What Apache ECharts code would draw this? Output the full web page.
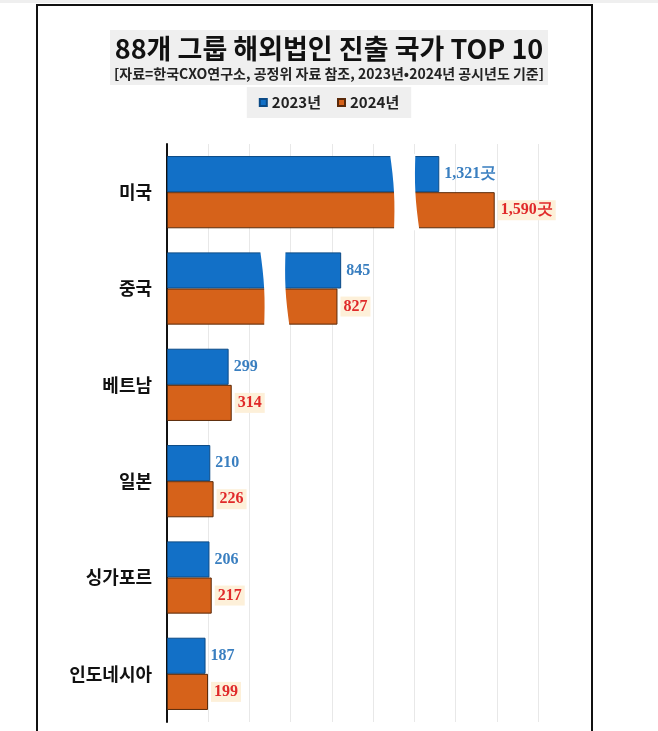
<!DOCTYPE html>
<html>
<head>
<meta charset="utf-8">
<script src="https://cdn.jsdelivr.net/npm/echarts@6/dist/echarts.min.js"></script>
<style>
  html, body { margin: 0; padding: 0; background: #fff; }
  #chart { width: 658px; height: 731px; }
</style>
</head>
<body>
<div id="chart"></div>
<script>
// data
const countries = ['미국', '중국', '베트남', '일본', '싱가포르', '인도네시아'];
const y2023 = [1321, 845, 299, 210, 206, 187];
const y2024 = [1590, 827, 314, 226, 217, 199];
// decorative axis-break gaps drawn over the two long bars: [from, to, category index]
const breakGaps = [
    [1082, 1205, 0],
    [452, 575, 1]
];

const KR = '"Noto Sans CJK KR", "Noto Sans", sans-serif';

function withComma(v) {
    return String(v).replace(/\B(?=(\d{3})+(?!\d))/g, ',');
}

function valueLabel(p) {
    return p.dataIndex === 0 ? withComma(p.value) + '곳' : String(p.value);
}

const chart = echarts.init(document.getElementById('chart'), null, { renderer: 'canvas' });

chart.setOption({
    animation: false,
    backgroundColor: '#fff',
    title: {
        text: '88개 그룹 해외법인 진출 국가 TOP 10',
        subtext: '[자료=한국CXO연구소, 공정위 자료 참조, 2023년•2024년 공시년도 기준]',
        left: 'center',
        top: 30,
        padding: [5, 4, 4, 4],
        itemGap: 5,
        backgroundColor: '#efefef',
        textStyle: { fontFamily: KR, fontSize: 27, fontWeight: 'bold', color: '#111' },
        subtextStyle: { fontFamily: KR, fontSize: 14, fontWeight: 'bold', color: '#222' }
    },
    legend: {
        data: ['2023년', '2024년'],
        top: 87,
        left: 'center',
        padding: [8, 12],
        backgroundColor: '#efefef',
        icon: 'rect',
        itemWidth: 7,
        itemHeight: 7,
        itemGap: 16,
        textStyle: { fontFamily: KR, fontSize: 15, fontWeight: 'bold', color: '#222' }
    },
    grid: { left: 167, right: 120, top: 144, bottom: 9 },
    xAxis: {
        type: 'value',
        min: 0,
        max: 1800,
        interval: 200,
        axisLabel: { show: false },
        axisLine: { show: false },
        axisTick: { show: false },
        splitLine: { lineStyle: { color: '#e8e8e8', width: 1 } }
    },
    yAxis: {
        type: 'category',
        data: countries,
        inverse: true,
        axisLine: { lineStyle: { color: '#111', width: 2 } },
        axisTick: { show: false },
        axisLabel: { fontFamily: KR, fontSize: 18, fontWeight: 'bold', color: '#111', margin: 15 }
    },
    graphic: [
        { type: 'rect', shape: { x: 0, y: 0, width: 658, height: 3 }, style: { fill: '#efefef' } },
        { type: 'rect', shape: { x: 37, y: 5, width: 555, height: 780 }, style: { fill: 'none', stroke: '#111', lineWidth: 2 } }
    ],
    series: [
        {
            name: '2023년',
            type: 'bar',
            data: y2023,
            barGap: '0%',
            barCategoryGap: '25%',
            itemStyle: { color: '#1270c7', borderColor: '#0b4a86', borderWidth: 1 },
            label: {
                show: true,
                position: 'right',
                distance: 5,
                formatter: valueLabel,
                fontFamily: '"Liberation Serif", serif',
                fontSize: 16,
                fontWeight: 'bold',
                color: '#3a7fc0'
            }
        },
        {
            name: '2024년',
            type: 'bar',
            data: y2024,
            itemStyle: { color: '#d6621a', borderColor: '#5a2a0a', borderWidth: 1 },
            label: {
                show: true,
                position: 'right',
                distance: 3,
                formatter: valueLabel,
                fontFamily: '"Liberation Serif", serif',
                fontSize: 16,
                fontWeight: 'bold',
                color: '#e02a2a',
                backgroundColor: '#fdf0d9',
                padding: [2, 3]
            }
        },
        {
            name: 'break',
            type: 'custom',
            silent: true,
            z: 5,
            data: breakGaps,
            encode: { x: [0, 1], y: 2 },
            renderItem: function (params, api) {
                const cat = api.value(2);
                const a = api.coord([api.value(0), cat]);
                const b = api.coord([api.value(1), cat]);
                const half = api.size([0, 1])[1] * 0.375 + 2;
                const top = a[1] - half;
                const bot = a[1] + half;
                const pts = [];
                const n = 8;
                for (let i = 0; i <= n; i++) {
                    const t = i / n;
                    pts.push([a[0] + 4 * t + 2 * Math.sin(Math.PI * t), top + (bot - top) * t]);
                }
                for (let i = n; i >= 0; i--) {
                    const t = i / n;
                    pts.push([b[0] + 4 * t - 2 * Math.sin(Math.PI * t), top + (bot - top) * t]);
                }
                return { type: 'polygon', shape: { points: pts }, style: { fill: '#fff' } };
            }
        }
    ]
});
</script>
</body>
</html>
